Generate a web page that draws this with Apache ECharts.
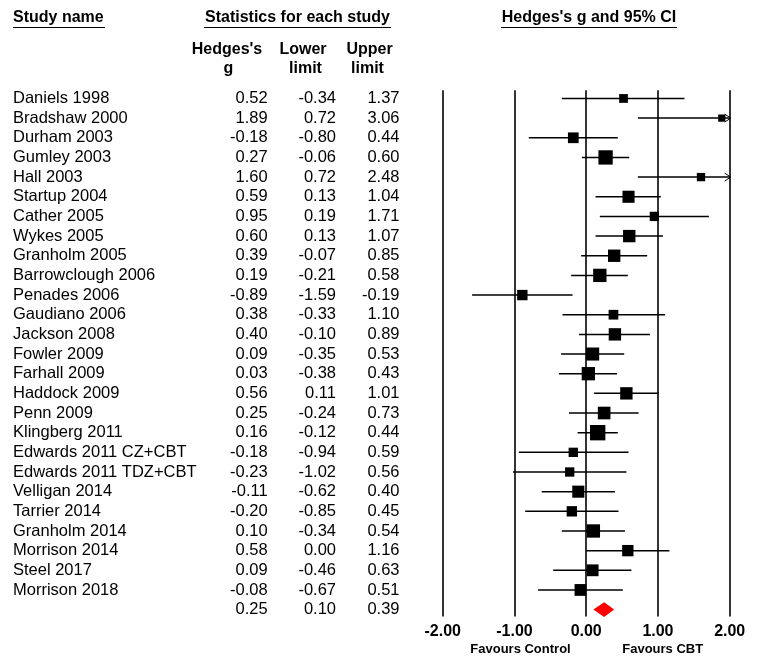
<!DOCTYPE html>
<html>
<head>
<meta charset="utf-8">
<script src="https://cdn.jsdelivr.net/npm/echarts@6/dist/echarts.min.js"></script>
<style>html,body{margin:0;padding:0;background:#fff}#c{width:757px;height:656px}</style>
</head>
<body>
<div id="c"></div>
<script>
const studies = ["Daniels 1998","Bradshaw 2000","Durham 2003","Gumley 2003","Hall 2003","Startup 2004","Cather 2005","Wykes 2005","Granholm 2005","Barrowclough 2006","Penades 2006","Gaudiano 2006","Jackson 2008","Fowler 2009","Farhall 2009","Haddock 2009","Penn 2009","Klingberg 2011","Edwards 2011 CZ+CBT","Edwards 2011 TDZ+CBT","Velligan 2014","Tarrier 2014","Granholm 2014","Morrison 2014","Steel 2017","Morrison 2018"];
const hedgesG    = [0.52,1.89,-0.18,0.27,1.60,0.59,0.95,0.60,0.39,0.19,-0.89,0.38,0.40,0.09,0.03,0.56,0.25,0.16,-0.18,-0.23,-0.11,-0.20,0.10,0.58,0.09,-0.08];
const lowerLimit = [-0.34,0.72,-0.80,-0.06,0.72,0.13,0.19,0.13,-0.07,-0.21,-1.59,-0.33,-0.10,-0.35,-0.38,0.11,-0.24,-0.12,-0.94,-1.02,-0.62,-0.85,-0.34,0.00,-0.46,-0.67];
const upperLimit = [1.37,3.06,0.44,0.60,2.48,1.04,1.71,1.07,0.85,0.58,-0.19,1.10,0.89,0.53,0.43,1.01,0.73,0.44,0.59,0.56,0.40,0.45,0.54,1.16,0.63,0.51];
// relative study weights (%)
const weights    = [2.2,1.5,3.3,5.9,2.0,4.2,2.5,4.4,4.4,5.1,3.1,2.7,4.4,4.9,5.1,4.4,4.6,6.8,2.5,2.5,4.2,3.1,5.1,3.7,4.0,4.0];
const summaryG = 0.25, summaryLower = 0.10, summaryUpper = 0.39;
const xMin = -2, xMax = 2, xStep = 1;

const FONT = '"Liberation Sans", Arial, Helvetica, sans-serif';
const chart = echarts.init(document.getElementById('c'), null, {renderer: 'canvas'});

const rowData = studies.map((s, i) => [i, hedgesG[i], lowerLimit[i], upperLimit[i], weights[i]]);
const textData = studies.map((s, i) => [i, s, hedgesG[i], lowerLimit[i], upperLimit[i]]);
textData.push([studies.length, '', summaryG, summaryLower, summaryUpper]);

function txt(text, x, y, align, bold, size) {
  return {type: 'text', x: x, y: y, silent: true,
    style: {text: text, fill: '#000', font: (bold ? 'bold ' : '') + (size || 16) + 'px ' + FONT,
      textAlign: align || 'left', textVerticalAlign: 'middle'}};
}
function uline(x1, x2, y) {
  return {type: 'line', silent: true, shape: {x1: x1, y1: y, x2: x2, y2: y}, style: {stroke: '#000', lineWidth: 1.2}};
}

const option = {
  backgroundColor: '#fff',
  animation: false,
  grid: {left: 442.7, right: 27.3, top: 90.2, height: 526.3},
  xAxis: {
    type: 'value', min: xMin, max: xMax, interval: xStep,
    axisLine: {show: false}, axisTick: {show: false},
    axisLabel: {formatter: v => v.toFixed(2), color: '#000', fontWeight: 'bold', fontSize: 16, fontFamily: FONT, margin: 7},
    splitLine: {show: true, lineStyle: {color: '#000', width: 1.6, type: 'solid'}}
  },
  yAxis: {type: 'value', inverse: true, min: -0.42, max: 26.35, show: false, splitLine: {show: false}},
  graphic: [
    txt('Study name', 13, 17.5, 'left', true),
    uline(13, 105, 27.5),
    txt('Statistics for each study', 297.5, 17.5, 'center', true),
    uline(204, 391, 27.5),
    txt("Hedges's g and 95% CI", 589, 17.5, 'center', true),
    uline(501, 677, 27.5),
    txt("Hedges's", 227, 50, 'center', true),
    txt('g', 228.5, 68.5, 'center', true),
    txt('Lower', 303, 50, 'center', true),
    txt('limit', 305.5, 68.5, 'center', true),
    txt('Upper', 369.5, 50, 'center', true),
    txt('limit', 367.5, 68.5, 'center', true),
    txt('Favours Control', 520.5, 649, 'center', true, 13),
    txt('Favours CBT', 662.7, 649, 'center', true, 13)
  ],
  series: [
    {
      type: 'custom', name: 'text', data: textData, clip: false, silent: true,
      encode: {y: 0},
      renderItem: function (params, api) {
        const i = params.dataIndex;
        const d = textData[i];
        const y = api.coord([xMin, d[0]])[1];
        return {type: 'group', children: [
          txt(d[1], 13, y, 'left', false, 16.5),
          txt(d[2].toFixed(2), 267.7, y, 'right', false, 16.5),
          txt(d[3].toFixed(2), 336, y, 'right', false, 16.5),
          txt(d[4].toFixed(2), 399.5, y, 'right', false, 16.5)
        ]};
      }
    },
    {
      type: 'custom', name: 'studies', data: rowData, clip: false, silent: true,
      encode: {x: [1, 2, 3], y: 0},
      renderItem: function (params, api) {
        const row = api.value(0), g = api.value(1), lo = api.value(2), hi = api.value(3), w = api.value(4);
        const hiC = Math.min(hi, xMax), loC = Math.max(lo, xMin);
        const pL = api.coord([loC, row]), pH = api.coord([hiC, row]), pG = api.coord([g, row]);
        const s = 5.9 * Math.sqrt(w);
        const ch = [
          {type: 'line', shape: {x1: pL[0], y1: pL[1], x2: pH[0], y2: pH[1]}, style: {stroke: '#000', lineWidth: 1.5}},
          {type: 'rect', shape: {x: pG[0] - s / 2, y: pG[1] - s / 2, width: s, height: s}, style: {fill: '#000'}}
        ];
        if (hi > xMax) {
          ch.push({type: 'polyline', shape: {points: [[pH[0] - 5, pH[1] - 4], [pH[0] + 1, pH[1]], [pH[0] - 5, pH[1] + 4]]},
            style: {stroke: '#000', lineWidth: 1, fill: null}});
        }
        return {type: 'group', children: ch};
      }
    },
    {
      type: 'custom', name: 'summary', data: [[studies.length, summaryG, summaryLower, summaryUpper]], clip: false, silent: true,
      encode: {x: [1, 2, 3], y: 0},
      renderItem: function (params, api) {
        const row = api.value(0);
        const pL = api.coord([api.value(2), row]), pG = api.coord([api.value(1), row]), pH = api.coord([api.value(3), row]);
        const h = 7.3;
        return {type: 'polygon', shape: {points: [[pL[0], pL[1]], [pG[0], pG[1] - h], [pH[0], pH[1]], [pG[0], pG[1] + h]]},
          style: {fill: '#ff0000'}};
      }
    }
  ]
};
chart.setOption(option);
</script>
</body>
</html>
